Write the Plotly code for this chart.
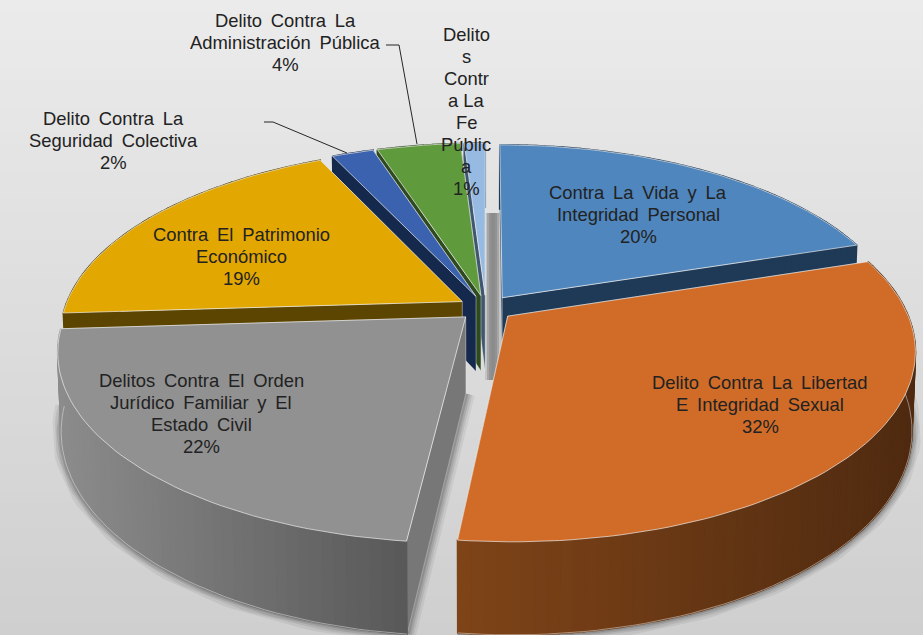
import math
import plotly.graph_objects as go

# ---- data ----
categories = [
    "Contra La Vida y La<br>Integridad Personal",
    "Delito Contra La Libertad<br>E Integridad Sexual",
    "Delitos Contra El Orden<br>Jurídico Familiar y El<br>Estado Civil",
    "Contra El Patrimonio<br>Económico",
    "Delito Contra La<br>Seguridad Colectiva",
    "Delito Contra La<br>Administración Pública",
    "Delito<br>s<br>Contr<br>a La<br>Fe<br>Públic<br>a",
]
values = [20, 31.8, 22.2, 19, 2, 4, 1]
top_colors = ["#4f86bd", "#d06c28", "#919191", "#e2a700", "#3b62ae", "#5f9a3d", "#97bae3"]
wall_colors = ["#1f3a57", "#6a3816", "#777777", "#5c4500", "#15294d", "#2f4a1e", "#3f5770"]
rim_left = ["#1f3a57", "#7f4418", "#8c8c8c", "#5c4500", "#15294d", "#2f4a1e", "#3f5770"]
rim_right = ["#1f3a57", "#4f2a10", "#585858", "#5c4500", "#15294d", "#2f4a1e", "#3f5770"]
label_pos = [(638, 214), (760, 404), (201, 413), (241, 256), (113, 140), (285, 42), (466, 111)]

# ---- projection ----
W, H = 923, 635
CX, CY, RX, RY, P, DEPTH, EXPLODE = 486, 308, 397.5, 183, 0.175, 76, 0.07
LINE_STEP = 22
WORD_GAP = "\u00a0\u2009"


def project(u, v, low=False):
    w = 1 + P * v
    x = CX + RX * u / w * (0.992 if low else 1)
    y = CY - RY * v / w + (DEPTH / w if low else 0)
    return x, y


def hex_mix(a, b, t):
    ca = [int(a[i:i + 2], 16) for i in (1, 3, 5)]
    cb = [int(b[i:i + 2], 16) for i in (1, 3, 5)]
    return "#%02x%02x%02x" % tuple(round(p + (q - p) * t) for p, q in zip(ca, cb))


fig = go.Figure()


def poly(pts, fill, line=None, width=0.6):
    fig.add_trace(go.Scatter(
        x=[p[0] for p in pts] + [pts[0][0]], y=[p[1] for p in pts] + [pts[0][1]],
        mode="lines", fill="toself", fillcolor=fill,
        line=dict(color=line or fill, width=width), hoverinfo="skip", showlegend=False))


def stroke(pts, color, width):
    fig.add_trace(go.Scatter(
        x=[p[0] for p in pts], y=[p[1] for p in pts], mode="lines",
        line=dict(color=color, width=width), hoverinfo="skip", showlegend=False))


total = sum(values)
slices = []
acc = 0
for i, val in enumerate(values):
    a0 = acc / total * 2 * math.pi
    acc += val
    a1 = acc / total * 2 * math.pi
    mid = (a0 + a1) / 2
    slices.append(dict(i=i, a0=a0, a1=a1, du=EXPLODE * math.sin(mid), dv=EXPLODE * math.cos(mid)))


def rim_uv(s, a):
    return math.sin(a) + s["du"], math.cos(a) + s["dv"]


def arc_angles(s):
    n = max(2, int((s["a1"] - s["a0"]) / math.radians(1.5)))
    return [s["a0"] + (s["a1"] - s["a0"]) * k / n for k in range(n + 1)]


# soft shadow under the near slices
for s in slices:
    if s["i"] in (1, 2):
        lower = [project(*rim_uv(s, a), low=True) for a in arc_angles(s)]
        edge = [project(s["du"], s["dv"], low=True), lower[0]]
        for wd, op in ((18, 0.08), (13, 0.10), (9, 0.13), (5, 0.18)):
            stroke(lower, f"rgba(50,50,50,{op})", wd)
            stroke(edge, f"rgba(50,50,50,{op})", wd)

# painter's order: far slices first
for s in sorted(slices, key=lambda q: -math.cos((q["a0"] + q["a1"]) / 2)):
    i = s["i"]
    tip_t = project(s["du"], s["dv"])
    tip_b = project(s["du"], s["dv"], low=True)
    angles = arc_angles(s)
    top_rim = [project(*rim_uv(s, a)) for a in angles]
    low_rim = [project(*rim_uv(s, a), low=True) for a in angles]
    # cut walls, the farther one first
    ends = [0, -1]
    ends.sort(key=lambda e: -rim_uv(s, angles[e])[1])
    for e in ends:
        poly([tip_t, top_rim[e], low_rim[e], tip_b], wall_colors[i], "rgba(235,235,235,0.5)")
    # outer wall with a shading that runs across it
    xs = [p[0] for p in top_rim]
    xmin, xmax = min(xs), max(xs)
    for k in range(len(angles) - 1):
        t = ((top_rim[k][0] + top_rim[k + 1][0]) / 2 - xmin) / max(xmax - xmin, 1)
        col = hex_mix(rim_left[i], rim_right[i], t)
        poly([top_rim[k], top_rim[k + 1], low_rim[k + 1], low_rim[k]], col, col, 1.6)
    if i in (1, 2):
        stroke(low_rim, "rgba(235,235,235,0.6)", 0.8)
    # top face
    poly([tip_t] + top_rim, top_colors[i], "rgba(240,240,240,0.75)", 0.9)

# leader lines
stroke([(264, 122), (273, 122), (347, 153)], "#262626", 1)
stroke([(386, 45), (399, 45), (417, 144)], "#262626", 1)

# text labels, one annotation per line for a tight line pitch
for name, val, (lx, ly) in zip(categories, values, label_pos):
    lines = name.split("<br>") + [f"{round(val)}%"]
    gap = WORD_GAP if len(lines) < 6 else " "
    for k, line in enumerate(lines):
        fig.add_annotation(x=lx, y=ly + (k - (len(lines) - 1) / 2) * LINE_STEP, xref="x", yref="y",
                           text=line.replace(" ", gap), showarrow=False,
                           xanchor="center", yanchor="middle", align="center",
                           font=dict(family="Liberation Sans", size=18.4, color="#222222"))

# background: vertical gradient and the soft central band
shapes = []
bands = 48
for b in range(bands):
    shapes.append(dict(type="rect", xref="x", yref="y", x0=0, x1=W, y0=H * b / bands, y1=H * (b + 1) / bands + 1,
                       layer="below", line=dict(width=0),
                       fillcolor=hex_mix("#ebebeb", "#cfcfcf", b / (bands - 1))))
band_cols = ["#c4c4c4", "#a6a6a6", "#929292", "#8c8c8c", "#8c8c8c", "#929292", "#a6a6a6", "#c4c4c4"]
for b, col in enumerate(band_cols):
    shapes.append(dict(type="rect", xref="x", yref="y", x0=485 + b * 2, x1=487 + b * 2, y0=213, y1=380,
                       layer="below", line=dict(width=0), fillcolor=col))

fig.update_layout(
    width=W, height=H, margin=dict(l=0, r=0, t=0, b=0), showlegend=False,
    paper_bgcolor="#e0e0e0", plot_bgcolor="rgba(0,0,0,0)", shapes=shapes,
    xaxis=dict(range=[0, W], visible=False, fixedrange=True),
    yaxis=dict(range=[H, 0], visible=False, fixedrange=True),
)
fig.write_html("out.html", config=dict(displayModeBar=False),
               post_script="document.body.style.margin='0';document.body.style.overflow='hidden';")
